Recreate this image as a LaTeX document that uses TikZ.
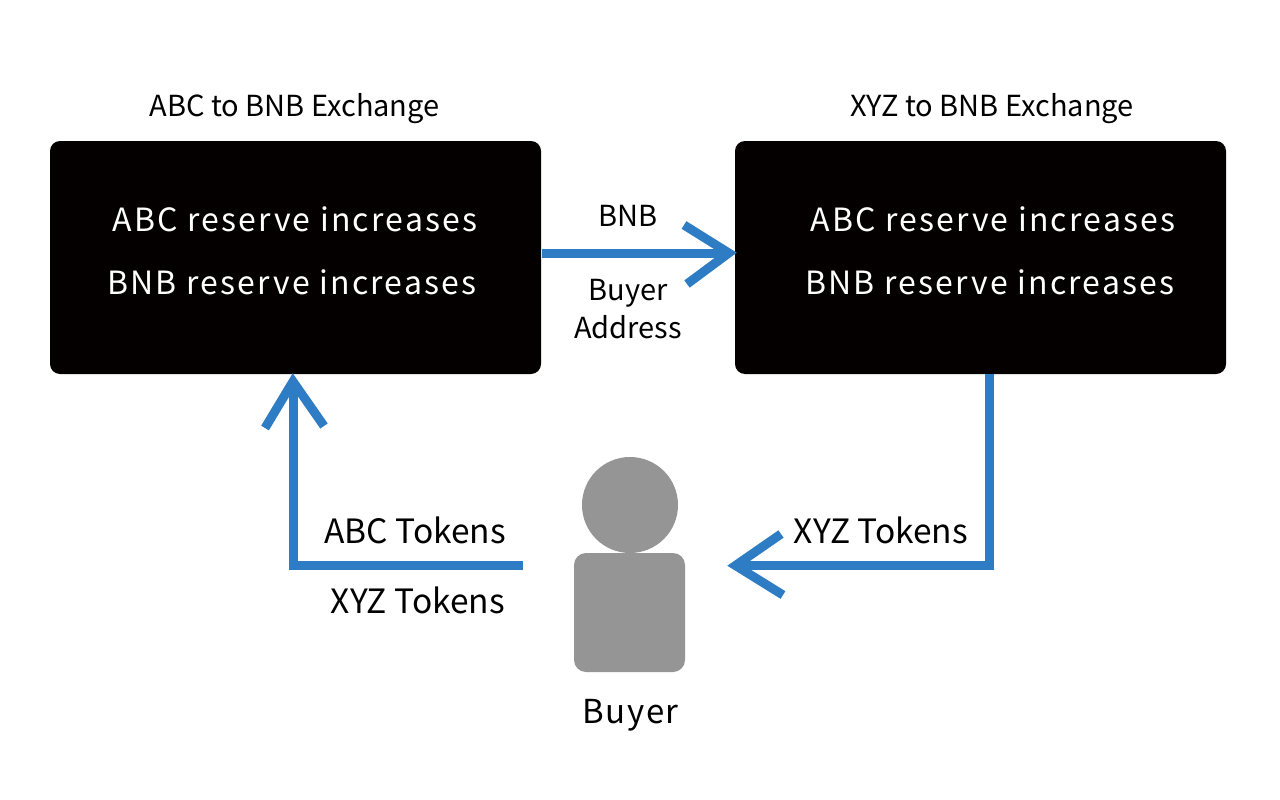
\documentclass[tikz,border=0pt]{standalone}
\usepackage{fontspec}
\setmainfont{Noto Sans CJK JP}
\definecolor{arrowblue}{HTML}{2E7CC4}
\definecolor{boxblack}{HTML}{040000}
\definecolor{persongray}{HTML}{959595}
\begin{document}
\begin{tikzpicture}[x=1pt,y=-1pt,
  lbl/.style={inner sep=0pt,text=black,font=\fontsize{29}{34}\selectfont},
  biglbl/.style={inner sep=0pt,text=black,font=\fontsize{33.5}{38}\selectfont},
  wlbl/.style={inner sep=0pt,text=white,font=\fontsize{32}{38}\selectfont\addfontfeature{LetterSpace=7}},
  exch/.style={fill=boxblack,draw=none,rounded corners=10pt,minimum width=491pt,minimum height=233pt,inner sep=0pt},
  conn/.style={draw=arrowblue,line width=9pt,line cap=butt,line join=miter}]
\useasboundingbox (0,0) rectangle (1280,800);
\fill[white] (0,0) rectangle (1280,800);
\node[exch] (abc) at (295.5,257.5) {};
\node[exch] (xyz) at (980.5,257.5) {};
\node[lbl] (t1) at (294.5,109) {ABC to BNB Exchange};
\node[lbl] (t2) at (992,109) {XYZ to BNB Exchange};
\node[wlbl] (a1) at (295,219) {ABC reserve increases};
\node[wlbl] (a2) at (292,282) {BNB reserve increases};
\node[wlbl] (b1) at (993,219) {ABC reserve increases};
\node[wlbl] (b2) at (990,282) {BNB reserve increases};
\node[lbl] (n1) at (628,216) {BNB};
\node[lbl] (n2) at (628,293) {Buyer};
\node[lbl] (n3) at (628,327) {Address};
\node[biglbl] (n4) at (415,530) {ABC Tokens};
\node[biglbl] (n5) at (418,600) {XYZ Tokens};
\node[biglbl] (n6) at (881,530) {XYZ Tokens};
\node[biglbl,font=\fontsize{33}{38}\selectfont\addfontfeature{LetterSpace=5}] (n7) at (630.5,715) {Buyer};
\node[circle,fill=persongray,minimum size=96pt,inner sep=0pt] (head) at (630,505) {};
\node[fill=persongray,rounded corners=12pt,minimum width=111pt,minimum height=119pt,inner sep=0pt] (body) at (629.5,612.5) {};
% BNB arrow
\coordinate (r0) at ([yshift=4pt,xshift=1pt]abc.east);
\coordinate (r1) at ([yshift=4pt,xshift=-7pt]xyz.west);
\coordinate (rtip) at ([yshift=4.5pt,xshift=-6pt]xyz.west);
\draw[conn] (r0) -- (r1);
\draw[conn] (684,225) -- (rtip) -- (687,284);
% XYZ tokens arrow
\coordinate (d0) at (989.5,374);
\coordinate (d1) at (989.5,565.5);
\coordinate (d2) at (740,565.5);
\draw[conn] (d0) -- (d1) -- (d2);
\draw[conn] (781,534) -- (735.5,565.5) -- (783,595);
% ABC tokens arrow
\coordinate (u0) at (523,565.5);
\coordinate (u1) at (293.5,565.5);
\coordinate (u2) at (293.5,385);
\draw[conn] (u0) -- (u1) -- (u2);
\draw[conn] (265,428) -- (293,381.5) -- (324,426);
\end{tikzpicture}
\end{document}
